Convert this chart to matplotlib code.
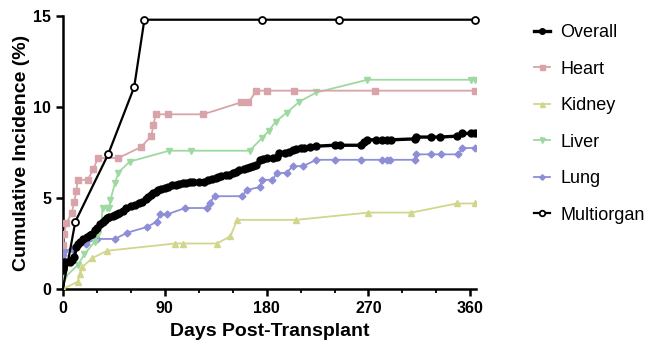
import matplotlib.pyplot as plt
from matplotlib.ticker import MultipleLocator

plt.rcParams['font.family'] = ['Liberation Sans', 'DejaVu Sans']

# Data (days, cumulative incidence %)
overall_days = [0, 1, 3, 6, 8, 10, 12, 13, 15, 18, 21, 24, 26, 28, 30, 33, 35, 37, 39,
                41, 44, 46, 48, 50, 53, 56, 60, 64, 67, 70, 73, 75, 78, 80, 82, 84, 87,
                90, 93, 96, 100, 103, 106, 109, 112, 115, 120, 125, 128, 132, 135, 137,
                140, 144, 147, 150, 153, 156, 160, 163, 165, 168, 171, 174, 177, 180,
                186, 189, 191, 196, 200, 203, 206, 210, 213, 218, 224, 240, 245, 263,
                266, 269, 277, 282, 286, 290, 311, 312, 325, 333, 348, 353, 361, 364]
overall_pct = [1.1, 1.5, 1.5, 1.5, 1.6, 1.75, 2.3, 2.45, 2.6, 2.75, 2.85, 2.95, 3.0, 3.25,
               3.35, 3.55, 3.7, 3.8, 3.9, 3.95, 4.0, 4.05, 4.1, 4.2, 4.3, 4.45, 4.55, 4.6,
               4.7, 4.8, 4.95, 5.05, 5.15, 5.3, 5.35, 5.45, 5.5, 5.55, 5.6, 5.7, 5.7, 5.75,
               5.8, 5.85, 5.9, 5.9, 5.9, 5.9, 6.0, 6.05, 6.1, 6.15, 6.2, 6.25, 6.25, 6.35,
               6.45, 6.55, 6.6, 6.65, 6.7, 6.75, 6.8, 7.1, 7.15, 7.2, 7.2, 7.25, 7.45,
               7.5, 7.55, 7.65, 7.7, 7.75, 7.75, 7.8, 7.85, 7.9, 7.9, 7.9, 8.1, 8.2, 8.2,
               8.2, 8.2, 8.2, 8.25, 8.35, 8.35, 8.35, 8.4, 8.55, 8.55, 8.55]

heart_days = [0, 1, 3, 8, 10, 12, 13, 22, 27, 31, 49, 69, 78, 80, 82, 93, 124, 157, 164,
              171, 180, 204, 276, 364]
heart_pct = [2.4, 3.0, 3.6, 4.2, 4.8, 5.4, 6.0, 6.0, 6.6, 7.2, 7.2, 7.8, 8.4, 9.0, 9.6,
             9.6, 9.6, 10.25, 10.25, 10.9, 10.9, 10.9, 10.9, 10.9]

kidney_days = [0, 13, 15, 17, 26, 39, 99, 106, 136, 148, 154, 206, 270, 308, 348, 364]
kidney_pct = [0.0, 0.4, 0.8, 1.2, 1.7, 2.1, 2.5, 2.5, 2.5, 2.9, 3.8, 3.8, 4.2, 4.2, 4.7, 4.7]

liver_days = [1, 13, 19, 28, 31, 34, 35, 39, 41, 42, 46, 49, 59, 94, 113, 165, 176, 182,
              188, 198, 209, 224, 269, 361, 364]
liver_pct = [0.6, 1.3, 1.9, 2.6, 3.0, 3.5, 4.45, 4.45, 4.45, 4.9, 5.8, 6.4, 7.0, 7.6, 7.6,
             7.6, 8.3, 8.7, 9.2, 9.7, 10.3, 10.8, 11.5, 11.5, 11.5]

lung_days = [0, 1, 8, 20, 30, 46, 57, 74, 83, 86, 92, 108, 127, 130, 134, 158, 163, 174,
             176, 185, 189, 198, 203, 212, 224, 240, 263, 282, 286, 289, 311, 312, 325,
             334, 349, 353, 364]
lung_pct = [1.85, 2.1, 2.2, 2.5, 2.75, 2.75, 3.1, 3.4, 3.7, 4.1, 4.1, 4.45, 4.45, 4.75,
            5.1, 5.1, 5.45, 5.6, 6.0, 6.0, 6.35, 6.4, 6.75, 6.75, 7.1, 7.1, 7.1, 7.1, 7.1,
            7.1, 7.1, 7.4, 7.4, 7.4, 7.4, 7.75, 7.75]

multi_days = [0, 11, 40, 63, 72, 176, 244, 364]
multi_pct = [0.0, 3.7, 7.4, 11.1, 14.8, 14.8, 14.8, 14.8]

fig = plt.figure(figsize=(6.62, 3.42), dpi=100)
ax = fig.add_axes([0.095, 0.155, 0.624, 0.798])

ax.plot(kidney_days, kidney_pct, color='#d2d68c', lw=1.3, marker='^', ms=4.5,
        label='Kidney', zorder=3)
ax.plot(lung_days, lung_pct, color='#8e8ed8', lw=1.3, marker='D', ms=3.5,
        label='Lung', zorder=3)
ax.plot(liver_days, liver_pct, color='#9dd9a0', lw=1.3, marker='v', ms=4.5,
        label='Liver', zorder=3)
ax.plot(heart_days, heart_pct, color='#d8a4aa', lw=1.3, marker='s', ms=4.5,
        label='Heart', zorder=3)
ax.plot(overall_days, overall_pct, color='black', lw=2.4, marker='o', ms=5,
        label='Overall', zorder=4)
# no marker drawn at the origin for multiorgan
ax.plot(multi_days, multi_pct, color='black', lw=1.6, marker='o', ms=5,
        mfc='white', mew=1.3, label='Multiorgan', zorder=5, clip_on=False,
        markevery=list(range(1, len(multi_days))))

ax.set_xlim(0, 365)
ax.set_ylim(0, 15)
ax.set_xticks([0, 90, 180, 270, 360])
ax.xaxis.set_minor_locator(MultipleLocator(30))
ax.set_yticks([0, 5, 10, 15])

for side in ['top', 'right']:
    ax.spines[side].set_visible(False)
for side in ['left', 'bottom']:
    ax.spines[side].set_linewidth(1.8)
ax.tick_params(which='major', width=1.8, length=5)
ax.tick_params(which='minor', width=1.3, length=3)
for lab in ax.get_xticklabels() + ax.get_yticklabels():
    lab.set_fontsize(11.5)
    lab.set_fontweight('bold')

ax.set_xlabel('Days Post-Transplant', fontsize=14, fontweight='bold', labelpad=5)
ax.set_ylabel('Cumulative Incidence (%)', fontsize=14, fontweight='bold', labelpad=2)

handles, labels = ax.get_legend_handles_labels()
order = ['Overall', 'Heart', 'Kidney', 'Liver', 'Lung', 'Multiorgan']
hmap = dict(zip(labels, handles))
ax.legend([hmap[k] for k in order], order, loc='upper left',
          bbox_to_anchor=(1.1, 1.03), frameon=False, fontsize=13,
          handlelength=0.9, handletextpad=0.6, labelspacing=1.08, markerscale=0.8)

fig.savefig('out.png', dpi=100)
